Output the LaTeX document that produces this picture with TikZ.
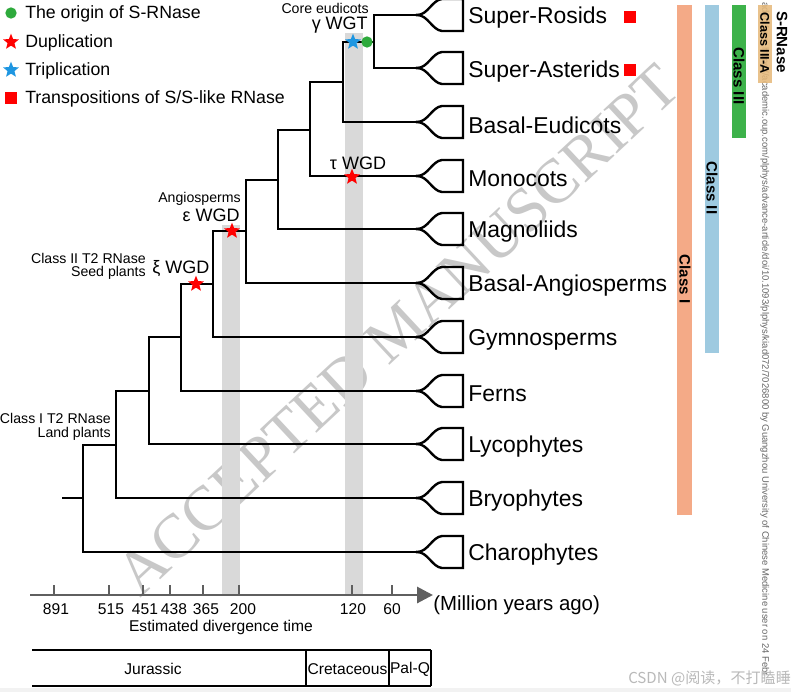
\documentclass[tikz,border=0pt]{standalone}
\usepackage{fontspec}
\setmainfont{Liberation Sans}
\newfontfamily\serifwm{Liberation Serif}
\newfontfamily\cjk{Noto Sans CJK SC}
\usetikzlibrary{arrows.meta,shapes.geometric}
\definecolor{gstar}{RGB}{46,170,60}
\definecolor{bstar}{RGB}{30,150,225}
\definecolor{bandgray}{RGB}{217,217,217}
\definecolor{axisgray}{RGB}{95,95,95}
\definecolor{cone}{RGB}{244,170,135}
\definecolor{ctwo}{RGB}{158,202,224}
\definecolor{cthree}{RGB}{61,178,74}
\definecolor{cthreea}{RGB}{230,184,120}
\definecolor{wmgray}{RGB}{200,200,200}
\tikzset{
 tree/.style={line width=1.8pt, line cap=rect},
 leaflab/.style={anchor=west, inner sep=0pt, font=\fontsize{17.2}{19}\selectfont},
 leglab/.style={anchor=west, inner sep=0pt, font=\fontsize{13.3}{15}\selectfont},
 smalllab/.style={inner sep=0pt, font=\fontsize{10.6}{12}\selectfont},
 wgdlab/.style={inner sep=0pt, font=\fontsize{13.5}{15}\selectfont},
 ticklab/.style={inner sep=0pt, font=\fontsize{11.7}{13}\selectfont},
 redstar/.style={star, star points=5, star point ratio=2.3, fill=red, draw=none, minimum size=12.5pt, inner sep=0pt},
 bluestar/.style={redstar, fill=bstar},
 gdot/.style={circle, fill=gstar, minimum size=8.5pt, inner sep=0pt},
 rsq/.style={rectangle, fill=red, minimum size=8.5pt, inner sep=0pt},
 band/.style={fill=bandgray, draw=none},
 classlab/.style={rotate=-90, inner sep=0pt, font=\bfseries\fontsize{11.3}{13}\selectfont},
 axisline/.style={draw=axisgray, line width=2.2pt, -{Triangle[length=12pt,width=12pt]}},
 tickline/.style={draw=axisgray, line width=1.5pt},
 boxline/.style={draw=black, line width=0.8pt},
 pics/fan/.style={code={\draw[tree] (0,0) .. controls (11,0) and (15,-15) .. (25,-16) -- (46,-16) -- (46,16) -- (25,16) .. controls (15,15) and (11,0) .. (0,0);}},
}
\begin{document}
\begin{tikzpicture}[x=0.75pt,y=-0.75pt]
\useasboundingbox (0,0) rectangle (791,692);
\fill[white] (0,0) rectangle (791,692);
\fill[gray!10] (0,688) rectangle (791,692);

% watermark
\node[rotate=43, inner sep=0pt, font=\serifwm\fontsize{47}{52}\selectfont, text=wmgray] (wm) at (398,330) {ACCEPTED MANUSCRIPT};

% gray bands
\fill[band] (222,225) rectangle (240,595);
\fill[band] (345,33) rectangle (363,595);

% leaves
\coordinate (f1) at (417,15);
\coordinate (f2) at (417,68);
\coordinate (f3) at (417,122);
\coordinate (f4) at (417,176);
\coordinate (f5) at (417,229);
\coordinate (f6) at (417,283);
\coordinate (f7) at (417,337);
\coordinate (f8) at (417,391);
\coordinate (f9) at (417,444);
\coordinate (f10) at (417,498);
\coordinate (f11) at (417,552);
\foreach \k in {1,...,11} \pic at (f\k) {fan};

% internal nodes
\coordinate (nRA) at (374,42);
\coordinate (nE) at (343,82);
\coordinate (nEM) at (310,130);
\coordinate (nMa) at (278,180);
\coordinate (nAng) at (246,231);
\coordinate (nSeed) at (213,284);
\coordinate (nFern) at (181,337);
\coordinate (nLyc) at (149,391);
\coordinate (nBry) at (116,445);
\coordinate (nRoot) at (83,498);
\coordinate (rootstart) at (63,498);

\draw[tree] (f1) -| (nRA) |- (f2);
\draw[tree] (nRA) -| (nE) |- (f3);
\draw[tree] (nE) -| (nEM) |- (f4);
\draw[tree] (nEM) -| (nMa) |- (f5);
\draw[tree] (nMa) -| (nAng) |- (f6);
\draw[tree] (nAng) -| (nSeed) |- (f7);
\draw[tree] (nSeed) -| (nFern) |- (f8);
\draw[tree] (nFern) -| (nLyc) |- (f9);
\draw[tree] (nLyc) -| (nBry) |- (f10);
\draw[tree] (nBry) -| (nRoot) |- (f11);
\draw[tree] (rootstart) -- (nRoot);

% leaf labels
\node[leaflab] (l1) at (468,18) {Super-Rosids};
\node[leaflab] (l2) at (468,72) {Super-Asterids};
\node[leaflab] (l3) at (468,125) {Basal-Eudicots};
\node[leaflab] (l4) at (468,179) {Monocots};
\node[leaflab] (l5) at (468,232) {Magnoliids};
\node[leaflab] (l6) at (468,286) {Basal-Angiosperms};
\node[leaflab] (l7) at (468,340) {Gymnosperms};
\node[leaflab] (l8) at (468,394) {Ferns};
\node[leaflab] (l9) at (468,447) {Lycophytes};
\node[leaflab] (l10) at (468,501) {Bryophytes};
\node[leaflab] (l11) at (468,555) {Charophytes};
\node[rsq] (sq1) at (630,17) {};
\node[rsq] (sq2) at (630,70) {};

% events
\node[bluestar] (tstar) at (353,42) {};
\node[gdot] (sorigin) at (367,42) {};
\node[redstar] (taustar) at (352,177) {};
\node[redstar] (epsstar) at (232,231) {};
\node[redstar] (xistar) at (196,284) {};

\node[smalllab, anchor=east] (core) at (369,8) {Core eudicots};
\node[wgdlab, anchor=east] (gwgt) at (368,25) {γ WGT};
\node[wgdlab] (twgd) at (358,163) {τ WGD};
\node[smalllab, anchor=east] (angio) at (241,199) {Angiosperms};
\node[wgdlab, anchor=east] (ewgd) at (240,215) {ε WGD};
\node[smalllab, anchor=east] (c2t2) at (146,258) {Class II T2 RNase};
\node[smalllab, anchor=east] (seed) at (146,273) {Seed plants};
\node[wgdlab, anchor=west] (xwgd) at (152,269) {ξ WGD};
\node[smalllab, anchor=east] (c1t2) at (111,418) {Class I T2 RNase};
\node[smalllab, anchor=east] (land) at (111,434) {Land plants};

% legend
\node[gdot] (lg1) at (11,13) {};
\node[leglab] (lt1) at (25,14) {The origin of S-RNase};
\node[redstar] (lg2) at (11,42) {};
\node[leglab] (lt2) at (25,43) {Duplication};
\node[bluestar] (lg3) at (11,70) {};
\node[leglab] (lt3) at (25,71) {Triplication};
\node[rsq] (lg4) at (11,98) {};
\node[leglab] (lt4) at (25,99) {Transpositions of S/S-like RNase};

% axis
\coordinate (ax0) at (30,595);
\coordinate (ax1) at (433,595);
\foreach \x in {54,109,143,170,203,239,352,392} \draw[tickline] (\x,585) -- (\x,595);
\draw[axisline] (ax0) -- (ax1);
\node[ticklab] (t891) at (56,609) {891};
\node[ticklab] (t515) at (111,609) {515};
\node[ticklab] (t451) at (145,609) {451};
\node[ticklab] (t438) at (174,609) {438};
\node[ticklab] (t365) at (206,609) {365};
\node[ticklab] (t200) at (243,609) {200};
\node[ticklab] (t120) at (353,609) {120};
\node[ticklab] (t60) at (392,609) {60};
\node[ticklab] (edt) at (221,627) {Estimated divergence time};
\node[inner sep=0pt, anchor=west, font=\fontsize{15.3}{17}\selectfont] (mya) at (433,605) {(Million years ago)};

% geological periods
\draw[boxline] (32,650) -- (431,650);
\draw[boxline] (32,686) -- (431,686);
\draw[boxline] (306,650) -- (306,686);
\draw[boxline] (389,650) -- (389,686);
\draw[boxline] (431,650) -- (431,686);
\node[ticklab] (jur) at (153,669) {Jurassic};
\node[ticklab] (cret) at (347.5,669) {Cretaceous};
\node[ticklab] (palq) at (410,669) {Pal-Q};

% download note
\node[rotate=-90, anchor=mid west, inner sep=0pt, text=gray!80!black, font=\fontsize{7.1}{8}\selectfont] (dl) at (766,2) {aded from https://academic.oup.com/plphys/advance-article/doi/10.1093/plphys/kiad072/7026800 by Guangzhou University of Chinese Medicine user on 24 Febr};

% class bars
\fill[cone] (677,5) rectangle (692,515);
\fill[ctwo] (705,5) rectangle (719,353);
\fill[cthree] (732,5) rectangle (746,138);
\fill[cthreea, fill opacity=0.85] (758,5) rectangle (772,83);
\node[classlab] (cl1) at (685,279) {Class I};
\node[classlab] (cl2) at (712,188) {Class II};
\node[classlab] (cl3) at (739,76) {Class III};
\node[classlab, font=\bfseries\fontsize{9.5}{11}\selectfont] (cl3a) at (765,43) {Class III-A};
\node[classlab] (srn) at (782,42) {S-RNase};

% CSDN mark
\node[anchor=west, inner sep=0pt, text=gray!55, font=\cjk\fontsize{11.3}{13}\selectfont] (csdn) at (628,678) {CSDN @阅读，不打瞌睡};
\end{tikzpicture}
\end{document}
